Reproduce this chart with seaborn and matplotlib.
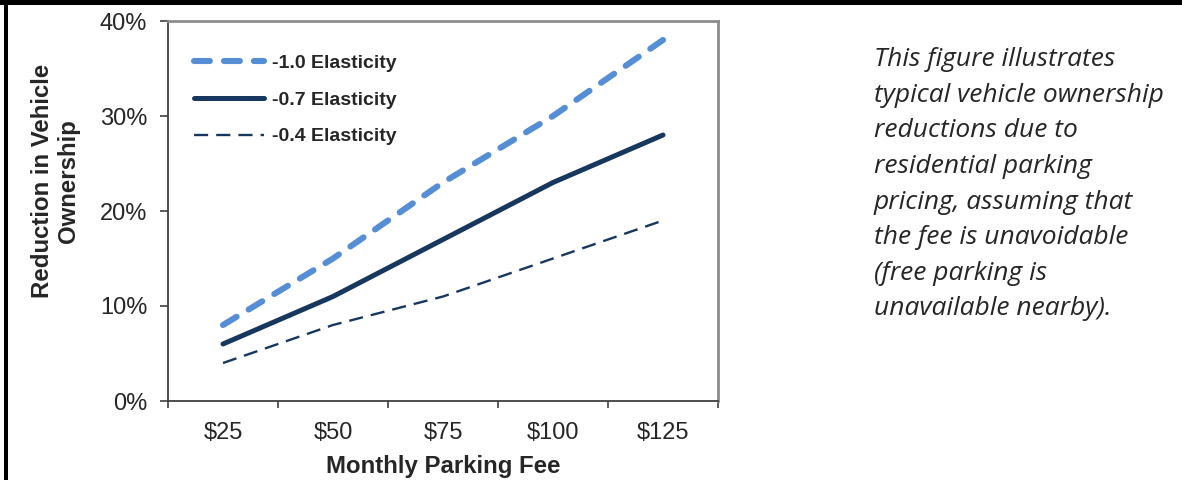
import pandas as pd
import numpy as np
import seaborn as sns
import matplotlib.pyplot as plt
from matplotlib.patches import Rectangle
from matplotlib.ticker import FuncFormatter

# values
fees = ["$25", "$50", "$75", "$100", "$125"]
elast_10 = [8, 15, 23, 30, 38]
elast_07 = [6, 11, 17, 23, 28]
elast_04 = [4, 8, 11, 15, 19]
series_labels = ["-1.0 Elasticity", "-0.7 Elasticity", "-0.4 Elasticity"]
y_ticks = [0, 10, 20, 30, 40]
note = ("This figure illustrates\ntypical vehicle ownership\nreductions due to\n"
        "residential parking\npricing, assuming that\nthe fee is unavoidable\n"
        "(free parking is\nunavailable nearby).")

sns.set_style("white")
plt.rcParams['font.family'] = ['Liberation Sans', 'DejaVu Sans']

fig = plt.figure(figsize=(11.82, 4.8), dpi=100)
ax = fig.add_axes([168 / 1182, 1 - 401 / 480, 550 / 1182, 380 / 480])

df = pd.DataFrame({"fee": fees * 3,
                   "value": elast_10 + elast_07 + elast_04,
                   "series": np.repeat(series_labels, len(fees))})

styles = [
    dict(color="#558ED5", linewidth=4.4, linestyle=(0, (2.6, 2.3)),
         dash_capstyle="round", solid_capstyle="round"),
    dict(color="#17375E", linewidth=3.6, linestyle="-",
         solid_capstyle="round"),
    dict(color="#17375E", linewidth=1.7, linestyle=(0, (6, 3.4)),
         dash_capstyle="butt"),
]
for lab, st in zip(series_labels, styles):
    sns.lineplot(data=df[df["series"] == lab], x="fee", y="value",
                 ax=ax, label=lab, **st)

ax.set_xlim(-0.5, len(fees) - 0.5)
ax.set_ylim(0, 40)
ax.set_yticks(y_ticks)
ax.yaxis.set_major_formatter(FuncFormatter(lambda v, p: f"{v:.0f}%"))
ax.set_xticks(range(len(fees)))
ax.set_xticklabels(fees)
ax.set_xticks(np.arange(-0.5, len(fees), 1.0), minor=True)
ax.tick_params(axis="x", which="major", length=0, pad=15, labelsize=17)
ax.tick_params(axis="x", which="minor", length=5, width=1.2, color="#404040",
               direction="out", bottom=True)
ax.tick_params(axis="y", length=6, width=1.2, color="#404040", labelsize=17,
               left=True, pad=9)

for side in ["top", "right"]:
    ax.spines[side].set_color("#8c8c8c")
    ax.spines[side].set_linewidth(2)
for side in ["left", "bottom"]:
    ax.spines[side].set_color("#404040")
    ax.spines[side].set_linewidth(1.3)

ax.set_xlabel("Monthly Parking Fee", fontsize=17.3, fontweight="bold", labelpad=8)
ax.set_ylabel("Reduction in Vehicle\nOwnership", fontsize=17.3, fontweight="bold",
              linespacing=1.15)
ax.yaxis.set_label_coords(-0.160, 0.579)

leg = ax.legend(loc="upper left", bbox_to_anchor=(0.047, 0.912), frameon=False,
                prop=dict(size=14, weight="bold"), handlelength=3.6,
                handletextpad=0.4, labelspacing=0.98, borderpad=0,
                borderaxespad=0)

fig.text(874 / 1182, 1 - 47 / 480, note, fontsize=19, style="italic",
         family="Open Sans", va="top", ha="left", linespacing=1.56)

# frame bits of the surrounding document
fig.add_artist(Rectangle((0, 1 - 5 / 480), 1, 5 / 480, transform=fig.transFigure,
                         color="black", lw=0))
fig.add_artist(Rectangle((4 / 1182, 0), 4 / 1182, 1, transform=fig.transFigure,
                         color="black", lw=0))

fig.savefig("out.png", dpi=100)
